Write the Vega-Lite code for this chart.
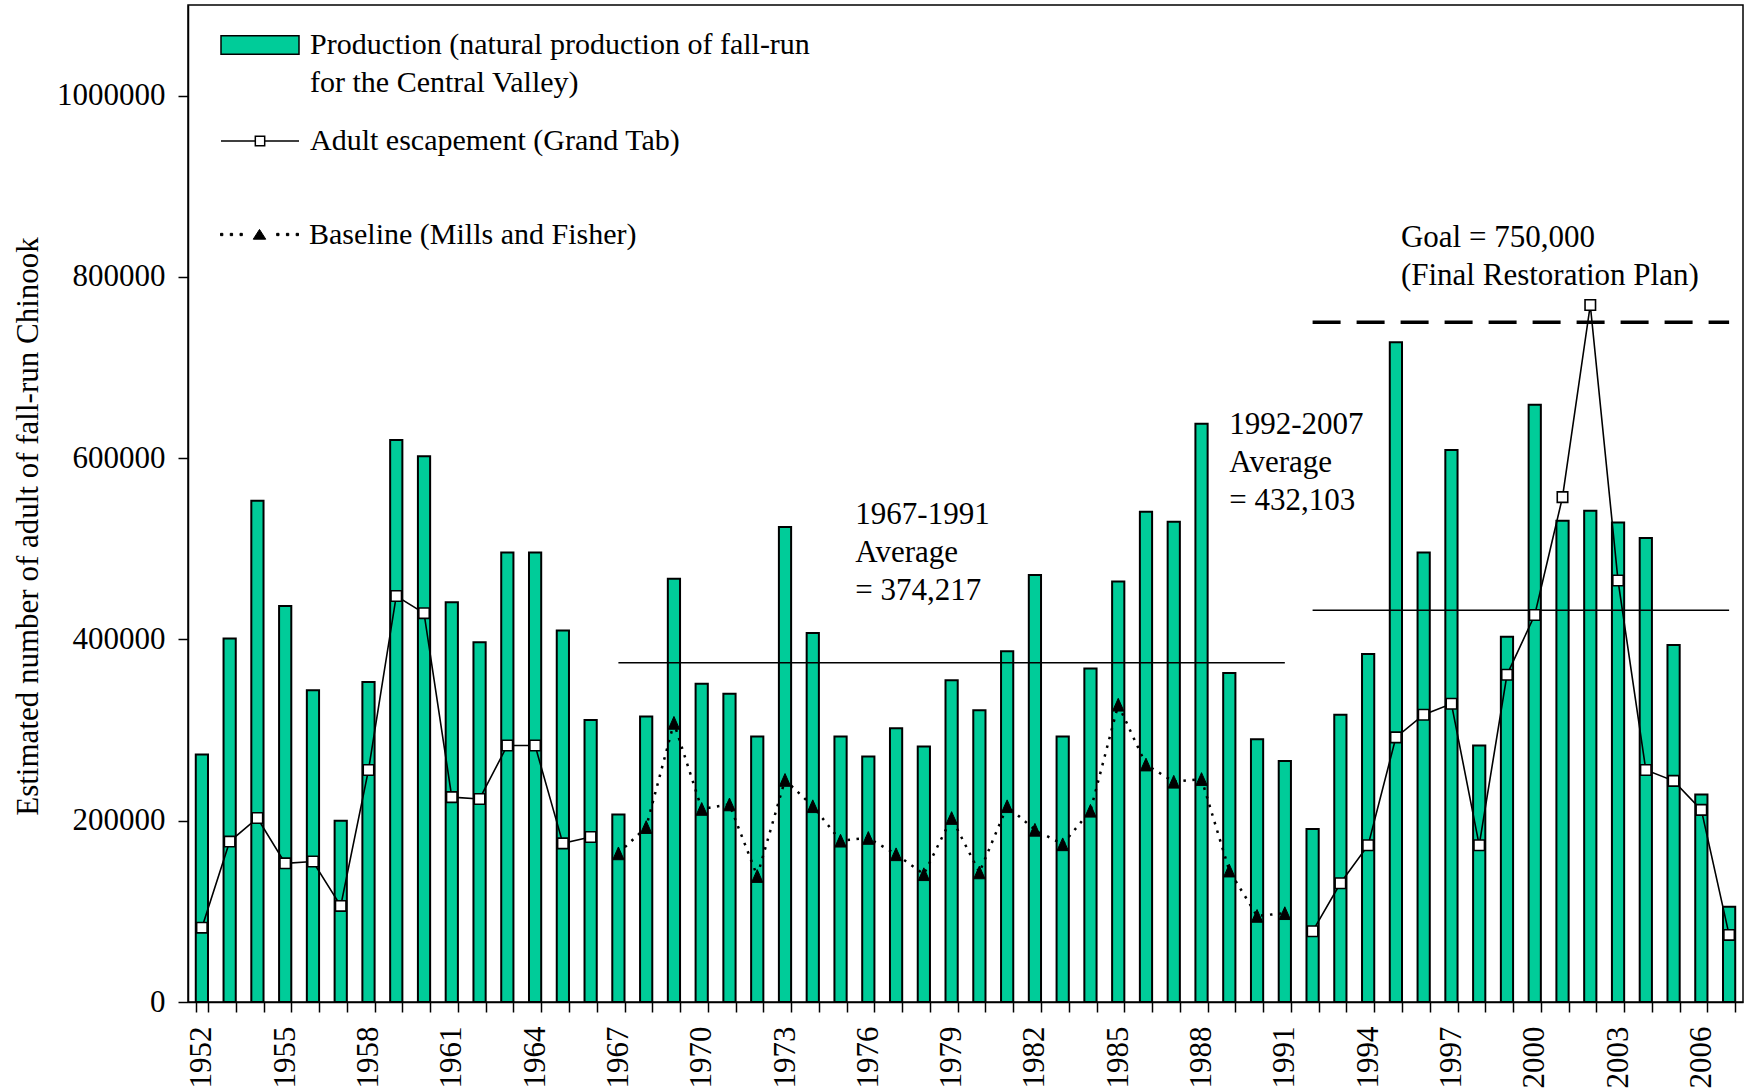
{
  "$schema": "https://vega.github.io/schema/vega-lite/v6.json",
  "width": 1555,
  "height": 997,
  "autosize": {"type": "none"},
  "padding": {"left": 188, "top": 5, "right": 3, "bottom": 90},
  "background": "white",
  "config": {
    "view": {"stroke": "black", "strokeWidth": 1.5},
    "font": "Liberation Serif",
    "axis": {
      "domainColor": "black", "domainWidth": 1.5,
      "tickColor": "black", "tickWidth": 1.5, "tickSize": 10,
      "labelColor": "black", "labelFont": "Liberation Serif", "labelFontSize": 31,
      "titleFont": "Liberation Serif", "titleColor": "black", "titleFontWeight": "normal", "titleFontSize": 31,
      "grid": false
    },
    "legend": {
      "labelFont": "Liberation Serif", "labelFontSize": 30, "labelColor": "black",
      "padding": 0, "offset": 0, "labelLimit": 0, "symbolSize": 6084, "orient": "none", "labelOffset": 10
    }
  },
  "datasets": {
    "chinook": [
      {"year": 1952, "series": "production", "count": 273000},
      {"year": 1953, "series": "production", "count": 401000},
      {"year": 1954, "series": "production", "count": 553000},
      {"year": 1955, "series": "production", "count": 437000},
      {"year": 1956, "series": "production", "count": 344000},
      {"year": 1957, "series": "production", "count": 200000},
      {"year": 1958, "series": "production", "count": 353000},
      {"year": 1959, "series": "production", "count": 620000},
      {"year": 1960, "series": "production", "count": 602000},
      {"year": 1961, "series": "production", "count": 441000},
      {"year": 1962, "series": "production", "count": 397000},
      {"year": 1963, "series": "production", "count": 496000},
      {"year": 1964, "series": "production", "count": 496000},
      {"year": 1965, "series": "production", "count": 410000},
      {"year": 1966, "series": "production", "count": 311000},
      {"year": 1967, "series": "production", "count": 207000},
      {"year": 1968, "series": "production", "count": 315000},
      {"year": 1969, "series": "production", "count": 467000},
      {"year": 1970, "series": "production", "count": 351000},
      {"year": 1971, "series": "production", "count": 340000},
      {"year": 1972, "series": "production", "count": 293000},
      {"year": 1973, "series": "production", "count": 524000},
      {"year": 1974, "series": "production", "count": 407000},
      {"year": 1975, "series": "production", "count": 293000},
      {"year": 1976, "series": "production", "count": 271000},
      {"year": 1977, "series": "production", "count": 302000},
      {"year": 1978, "series": "production", "count": 282000},
      {"year": 1979, "series": "production", "count": 355000},
      {"year": 1980, "series": "production", "count": 322000},
      {"year": 1981, "series": "production", "count": 387000},
      {"year": 1982, "series": "production", "count": 471000},
      {"year": 1983, "series": "production", "count": 293000},
      {"year": 1984, "series": "production", "count": 368000},
      {"year": 1985, "series": "production", "count": 464000},
      {"year": 1986, "series": "production", "count": 541000},
      {"year": 1987, "series": "production", "count": 530000},
      {"year": 1988, "series": "production", "count": 638000},
      {"year": 1989, "series": "production", "count": 363000},
      {"year": 1990, "series": "production", "count": 290000},
      {"year": 1991, "series": "production", "count": 266000},
      {"year": 1992, "series": "production", "count": 191000},
      {"year": 1993, "series": "production", "count": 317000},
      {"year": 1994, "series": "production", "count": 384000},
      {"year": 1995, "series": "production", "count": 728000},
      {"year": 1996, "series": "production", "count": 496000},
      {"year": 1997, "series": "production", "count": 609000},
      {"year": 1998, "series": "production", "count": 283000},
      {"year": 1999, "series": "production", "count": 403000},
      {"year": 2000, "series": "production", "count": 659000},
      {"year": 2001, "series": "production", "count": 531000},
      {"year": 2002, "series": "production", "count": 542000},
      {"year": 2003, "series": "production", "count": 529000},
      {"year": 2004, "series": "production", "count": 512000},
      {"year": 2005, "series": "production", "count": 394000},
      {"year": 2006, "series": "production", "count": 229000},
      {"year": 2007, "series": "production", "count": 105000},
      {"year": 1952, "series": "escapement", "period": "early", "count": 82000},
      {"year": 1953, "series": "escapement", "period": "early", "count": 177000},
      {"year": 1954, "series": "escapement", "period": "early", "count": 203000},
      {"year": 1955, "series": "escapement", "period": "early", "count": 153000},
      {"year": 1956, "series": "escapement", "period": "early", "count": 155000},
      {"year": 1957, "series": "escapement", "period": "early", "count": 106000},
      {"year": 1958, "series": "escapement", "period": "early", "count": 256000},
      {"year": 1959, "series": "escapement", "period": "early", "count": 448000},
      {"year": 1960, "series": "escapement", "period": "early", "count": 429000},
      {"year": 1961, "series": "escapement", "period": "early", "count": 226000},
      {"year": 1962, "series": "escapement", "period": "early", "count": 224000},
      {"year": 1963, "series": "escapement", "period": "early", "count": 283000},
      {"year": 1964, "series": "escapement", "period": "early", "count": 283000},
      {"year": 1965, "series": "escapement", "period": "early", "count": 175000},
      {"year": 1966, "series": "escapement", "period": "early", "count": 182000},
      {"year": 1992, "series": "escapement", "period": "late", "count": 78000},
      {"year": 1993, "series": "escapement", "period": "late", "count": 131000},
      {"year": 1994, "series": "escapement", "period": "late", "count": 173000},
      {"year": 1995, "series": "escapement", "period": "late", "count": 292000},
      {"year": 1996, "series": "escapement", "period": "late", "count": 317000},
      {"year": 1997, "series": "escapement", "period": "late", "count": 329000},
      {"year": 1998, "series": "escapement", "period": "late", "count": 173000},
      {"year": 1999, "series": "escapement", "period": "late", "count": 361000},
      {"year": 2000, "series": "escapement", "period": "late", "count": 427000},
      {"year": 2001, "series": "escapement", "period": "late", "count": 557000},
      {"year": 2002, "series": "escapement", "period": "late", "count": 769000},
      {"year": 2003, "series": "escapement", "period": "late", "count": 465000},
      {"year": 2004, "series": "escapement", "period": "late", "count": 256000},
      {"year": 2005, "series": "escapement", "period": "late", "count": 244000},
      {"year": 2006, "series": "escapement", "period": "late", "count": 212000},
      {"year": 2007, "series": "escapement", "period": "late", "count": 74000},
      {"year": 1967, "series": "baseline", "count": 164000},
      {"year": 1968, "series": "baseline", "count": 193000},
      {"year": 1969, "series": "baseline", "count": 308000},
      {"year": 1970, "series": "baseline", "count": 213000},
      {"year": 1971, "series": "baseline", "count": 218000},
      {"year": 1972, "series": "baseline", "count": 139000},
      {"year": 1973, "series": "baseline", "count": 245000},
      {"year": 1974, "series": "baseline", "count": 216000},
      {"year": 1975, "series": "baseline", "count": 178000},
      {"year": 1976, "series": "baseline", "count": 181000},
      {"year": 1977, "series": "baseline", "count": 163000},
      {"year": 1978, "series": "baseline", "count": 141000},
      {"year": 1979, "series": "baseline", "count": 203000},
      {"year": 1980, "series": "baseline", "count": 143000},
      {"year": 1981, "series": "baseline", "count": 216000},
      {"year": 1982, "series": "baseline", "count": 190000},
      {"year": 1983, "series": "baseline", "count": 174000},
      {"year": 1984, "series": "baseline", "count": 211000},
      {"year": 1985, "series": "baseline", "count": 328000},
      {"year": 1986, "series": "baseline", "count": 262000},
      {"year": 1987, "series": "baseline", "count": 243000},
      {"year": 1988, "series": "baseline", "count": 246000},
      {"year": 1989, "series": "baseline", "count": 145000},
      {"year": 1990, "series": "baseline", "count": 95000},
      {"year": 1991, "series": "baseline", "count": 98000}
    ],
    "levels": [
      {"year": 1967, "year2": 1991, "count": 374217, "kind": "average"},
      {"year": 1992, "year2": 2007, "count": 432103, "kind": "average"},
      {"year": 1992, "year2": 2007, "count": 750000, "kind": "goal"}
    ],
    "notes": [
      {"year": 1976, "count": 527000, "note": "1967-1991\nAverage\n= 374,217", "which": "a"},
      {"year": 1989, "count": 626400, "note": "1992-2007\nAverage\n= 432,103", "which": "b"},
      {"year": 1995, "count": 833300, "note": "Goal = 750,000\n(Final Restoration Plan)", "which": "c"}
    ]
  },
  "encoding": {
    "x": {
      "field": "year", "type": "ordinal",
      "scale": {"paddingInner": 0.56, "paddingOuter": 0.28},
      "axis": {
        "title": null, "tickBand": "extent", "labelAngle": 270, "labelAlign": "right", "labelBaseline": "middle",
        "labelPadding": 14, "labelOverlap": false,
        "labelExpr": "(datum.value - 1952) % 3 == 0 ? datum.label : ''"
      }
    },
    "y": {
      "field": "count", "type": "quantitative",
      "scale": {"domain": [0, 1100000], "nice": false, "zero": true},
      "axis": {
        "title": "Estimated number of adult of fall-run Chinook",
        "values": [0, 200000, 400000, 600000, 800000, 1000000], "format": "d",
        "labelPadding": 13, "titleAngle": 270, "titleX": -151, "titleY": 521,
        "titleAlign": "center", "titleBaseline": "alphabetic"
      }
    }
  },
  "layer": [
    {
      "data": {"name": "chinook"},
      "transform": [{"filter": "datum.series == 'production'"}],
      "mark": {"type": "bar", "fill": "#00CC99", "stroke": "black", "strokeWidth": 2}
    },
    {
      "data": {"name": "levels"},
      "transform": [{"filter": "datum.kind == 'average'"}],
      "mark": {"type": "rule", "color": "black", "strokeWidth": 1.5},
      "encoding": {"x2": {"field": "year2"}}
    },
    {
      "data": {"name": "levels"},
      "transform": [{"filter": "datum.kind == 'goal'"}],
      "mark": {"type": "rule", "color": "black", "strokeWidth": 3.5, "strokeDash": [28, 16]},
      "encoding": {"x2": {"field": "year2"}}
    },
    {
      "data": {"name": "chinook"},
      "transform": [{"filter": "datum.series == 'escapement'"}],
      "mark": {"type": "line", "color": "black", "strokeWidth": 1.6},
      "encoding": {"detail": {"field": "period"}}
    },
    {
      "data": {"name": "chinook"},
      "transform": [{"filter": "datum.series == 'escapement'"}],
      "mark": {"type": "point", "shape": "square", "filled": true, "fill": "white", "stroke": "black", "strokeWidth": 1.6, "size": 110, "opacity": 1}
    },
    {
      "data": {"name": "chinook"},
      "transform": [{"filter": "datum.series == 'baseline'"}],
      "mark": {"type": "line", "color": "black", "strokeWidth": 2.5, "strokeDash": [2.5, 6.5]}
    },
    {
      "data": {"name": "chinook"},
      "transform": [{"filter": "datum.series == 'baseline'"}],
      "mark": {"type": "point", "shape": "M0,-0.9L0.8,0.9L-0.8,0.9Z", "filled": true, "fill": "black", "stroke": "black", "strokeWidth": 1, "size": 200, "opacity": 1}
    },
    {
      "data": {"name": "notes"},
      "transform": [{"filter": "datum.which == 'a'"}],
      "mark": {"type": "text", "align": "left", "baseline": "alphabetic", "lineBreak": "\n", "lineHeight": 38, "fontSize": 31, "font": "Liberation Serif", "color": "black", "dx": -13},
      "encoding": {"text": {"field": "note"}}
    },
    {
      "data": {"name": "notes"},
      "transform": [{"filter": "datum.which == 'b'"}],
      "mark": {"type": "text", "align": "left", "baseline": "alphabetic", "lineBreak": "\n", "lineHeight": 38, "fontSize": 31, "font": "Liberation Serif", "color": "black", "dx": 0},
      "encoding": {"text": {"field": "note"}}
    },
    {
      "data": {"name": "notes"},
      "transform": [{"filter": "datum.which == 'c'"}],
      "mark": {"type": "text", "align": "left", "baseline": "alphabetic", "lineBreak": "\n", "lineHeight": 38, "fontSize": 31, "font": "Liberation Serif", "color": "black", "dx": 5},
      "encoding": {"text": {"field": "note"}}
    },
    {
      "data": {"values": []},
      "mark": {"type": "point", "filled": true, "fill": "#00CC99", "stroke": "black", "strokeWidth": 1.5, "opacity": 1},
      "encoding": {
        "shape": {
          "field": "entry", "type": "nominal",
          "scale": {"domain": ["Production"], "range": ["M-1,-0.24H1V0.24H-1Z"]},
          "legend": {
            "title": null, "legendX": 32, "legendY": 0,
            "symbolFillColor": "#00CC99", "symbolStrokeColor": "black", "symbolStrokeWidth": 1.5,
            "labelExpr": "['Production (natural production of fall-run', 'for the Central Valley)']",
            "encoding": {
              "labels": {"lineHeight": {"value": 38}},
              "symbols": {"fill": {"value": "#00CC99"}, "stroke": {"value": "black"}, "strokeWidth": {"value": 1.5}, "opacity": {"value": 1}}
            }
          }
        }
      }
    },
    {
      "data": {"values": []},
      "mark": {"type": "point", "filled": true, "fill": "white", "stroke": "black", "strokeWidth": 1.5, "opacity": 1},
      "encoding": {
        "shape": {
          "field": "entry", "type": "nominal",
          "scale": {"domain": ["Adult escapement (Grand Tab)"], "range": ["M-1,0H-0.12M0.12,0H1M-0.12,-0.12H0.12V0.12H-0.12Z"]},
          "legend": {
            "title": null, "legendX": 32, "legendY": 96,
            "symbolFillColor": "white", "symbolStrokeColor": "black", "symbolStrokeWidth": 1.5,
            "encoding": {
              "symbols": {"fill": {"value": "white"}, "stroke": {"value": "black"}, "strokeWidth": {"value": 1.5}, "opacity": {"value": 1}}
            }
          }
        }
      }
    },
    {
      "data": {"values": []},
      "mark": {"type": "point", "filled": true, "fill": "black", "stroke": "black", "strokeWidth": 1, "opacity": 1},
      "encoding": {
        "shape": {
          "field": "entry", "type": "nominal",
          "scale": {"domain": ["Baseline (Mills and Fisher)"], "range": ["M-1,-0.03h0.06v0.06h-0.06ZM-0.75,-0.03h0.06v0.06h-0.06ZM-0.5,-0.03h0.06v0.06h-0.06ZM0.44,-0.03h0.06v0.06h-0.06ZM0.69,-0.03h0.06v0.06h-0.06ZM0.94,-0.03h0.06v0.06h-0.06ZM0,-0.13L0.16,0.12L-0.16,0.12Z"]},
          "legend": {
            "title": null, "legendX": 32, "legendY": 190,
            "symbolFillColor": "black", "symbolStrokeColor": "black", "symbolStrokeWidth": 1,
            "encoding": {
              "symbols": {"fill": {"value": "black"}, "stroke": {"value": "black"}, "strokeWidth": {"value": 1}, "opacity": {"value": 1}}
            }
          }
        }
      }
    }
  ],
  "resolve": {"scale": {"shape": "independent"}, "legend": {"shape": "independent"}}
}
